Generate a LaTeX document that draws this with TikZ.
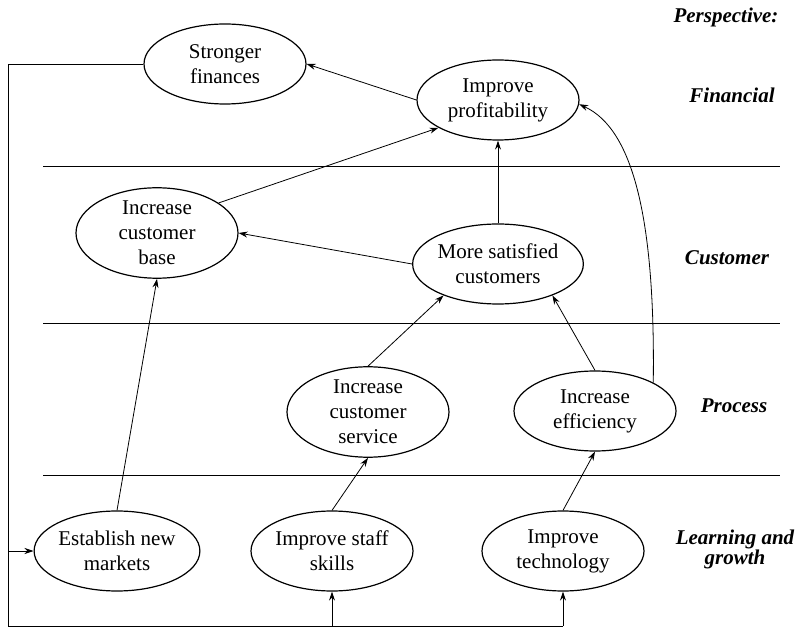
\documentclass[tikz,border=0pt]{standalone}
\usepackage{fontspec}
\setmainfont{Liberation Serif}
\usetikzlibrary{shapes.geometric, arrows.meta, positioning}

\tikzset{
  goal/.style={draw, ellipse, line width=1.2pt, minimum width=162pt, minimum height=80pt,
    inner sep=0pt, align=center, font=\fontsize{21}{25}\selectfont},
  persp/.style={align=center, font=\fontsize{21}{20}\selectfont\bfseries\itshape},
  link/.style={line width=0.8pt}
}

\begin{document}
\begin{tikzpicture}[x=1pt, y=-1pt, >={Stealth[length=9pt,width=6pt]}]
  \useasboundingbox (0,0) rectangle (801,628);
  % perspective bands
  \draw [link] (43,166) -- (780,166);
  \draw [link] (43,323) -- (780,323);
  \draw [link] (43,475) -- (780,475);
  \node [persp, anchor=east] (lbltop) at (782,17) {Perspective:};
  \node [persp] (lblfin) at (732,95) {Financial};
  \node [persp] (lblcus) at (727,258) {Customer};
  \node [persp] (lblpro) at (734,406) {Process};
  \node [persp] (lbllea) at (735,549) {Learning and\\growth};
  % goals
  \node [goal] (fin) at (225,64) {Stronger\\finances};
  \node [goal] (prof) at (498,100) {Improve\\profitability};
  \node [goal] (base) at (157,233) {Increase\\customer\\base};
  \node [goal] (sat) at (498,264) {More satisfied\\customers};
  \node [goal] (serv) at (368,412) {Increase\\customer\\service};
  \node [goal] (eff) at (595,411) {Increase\\efficiency};
  \node [goal] (est) at (117,551) {Establish new\\markets};
  \node [goal] (staff) at (332,551) {Improve staff\\skills};
  \node [goal] (tech) at (563,551) {Improve\\technology};
  % links
  \draw [link, ->] (prof.west) -- (fin.east);
  \draw [link, ->] (base.26) -- (prof.205);
  \draw [link, ->] (sat.west) -- (base.east);
  \draw [link, ->] (sat.north) -- (prof.south);
  \draw [link, ->] (serv.north) -- (sat.210);
  \draw [link, ->] (eff.north) -- (sat.330);
  \draw [link, ->] (eff.26) .. controls +(2,-160) and +(55,25) .. (prof.-3);
  \draw [link, ->] (est.north) -- (base.south);
  \draw [link, ->] (staff.north) -- (serv.south);
  \draw [link, ->] (tech.north) -- (eff.south);
  % feedback loop
  \coordinate (lt) at (8,64);
  \coordinate (lb) at (8,626);
  \draw [link] (fin.west) -- (lt) -- (lb) -- (tech.south |- lb);
  \draw [link, ->] (lt |- est.west) -- (est.west);
  \draw [link, ->] (staff.south |- lb) -- (staff.south);
  \draw [link, ->] (tech.south |- lb) -- (tech.south);
\end{tikzpicture}
\end{document}
